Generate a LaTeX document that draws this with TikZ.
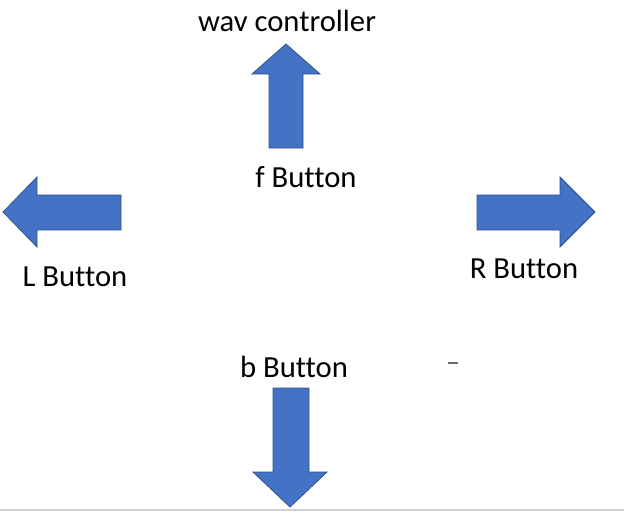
\documentclass[tikz,border=0pt]{standalone}
\usepackage{fontspec}
\setmainfont{Carlito}[Ligatures=NoCommon]
\usepackage{xcolor}
\usepackage{tikz}
\usetikzlibrary{positioning}
\definecolor{ArrowBlue}{HTML}{4472C4}
\definecolor{ArrowEdge}{HTML}{2F528F}
\definecolor{RuleGray}{HTML}{D0D0D0}
\definecolor{DashGray}{HTML}{6E6E6E}

\begin{document}
\begin{tikzpicture}[
  x=0.75pt, y=-0.75pt,
  barrow/.style={fill=ArrowBlue, draw=ArrowEdge, line width=0.6pt, line join=miter},
  lbl/.style={anchor=base, inner sep=0pt, font=\fontsize{23}{27}\selectfont, text=black}
]
\useasboundingbox (0,0) rectangle (624,512);

% block arrows
\draw[barrow] (286,44) -- (320,74) -- (303,74) -- (303,148) -- (269,148) -- (269,74) -- (252,74) -- cycle;
\draw[barrow] (3,212) -- (37,177) -- (37,195) -- (121,195) -- (121,230) -- (37,230) -- (37,247) -- cycle;
\draw[barrow] (595,212) -- (560,177) -- (560,195) -- (477,195) -- (477,230) -- (560,230) -- (560,247) -- cycle;
\draw[barrow] (290,507) -- (327,472) -- (309,472) -- (309,388) -- (273,388) -- (273,472) -- (253,472) -- cycle;

% labels
\node[lbl] (wav) at (287,31)  {wav controller};
\node[lbl] (fbtn) at (306,187) {f Button};
\node[lbl] (lbtn) at (75,286)  {L Button};
\node[lbl] (rbtn) at (524,278) {R Button};
\node[lbl] (bbtn) at (294,377) {b Button};

% stray marks
\draw[DashGray, line width=0.8pt] (448,363) -- (458,363);
\draw[RuleGray, line width=1.2pt] (0,510) -- (624,510);
\end{tikzpicture}
\end{document}
